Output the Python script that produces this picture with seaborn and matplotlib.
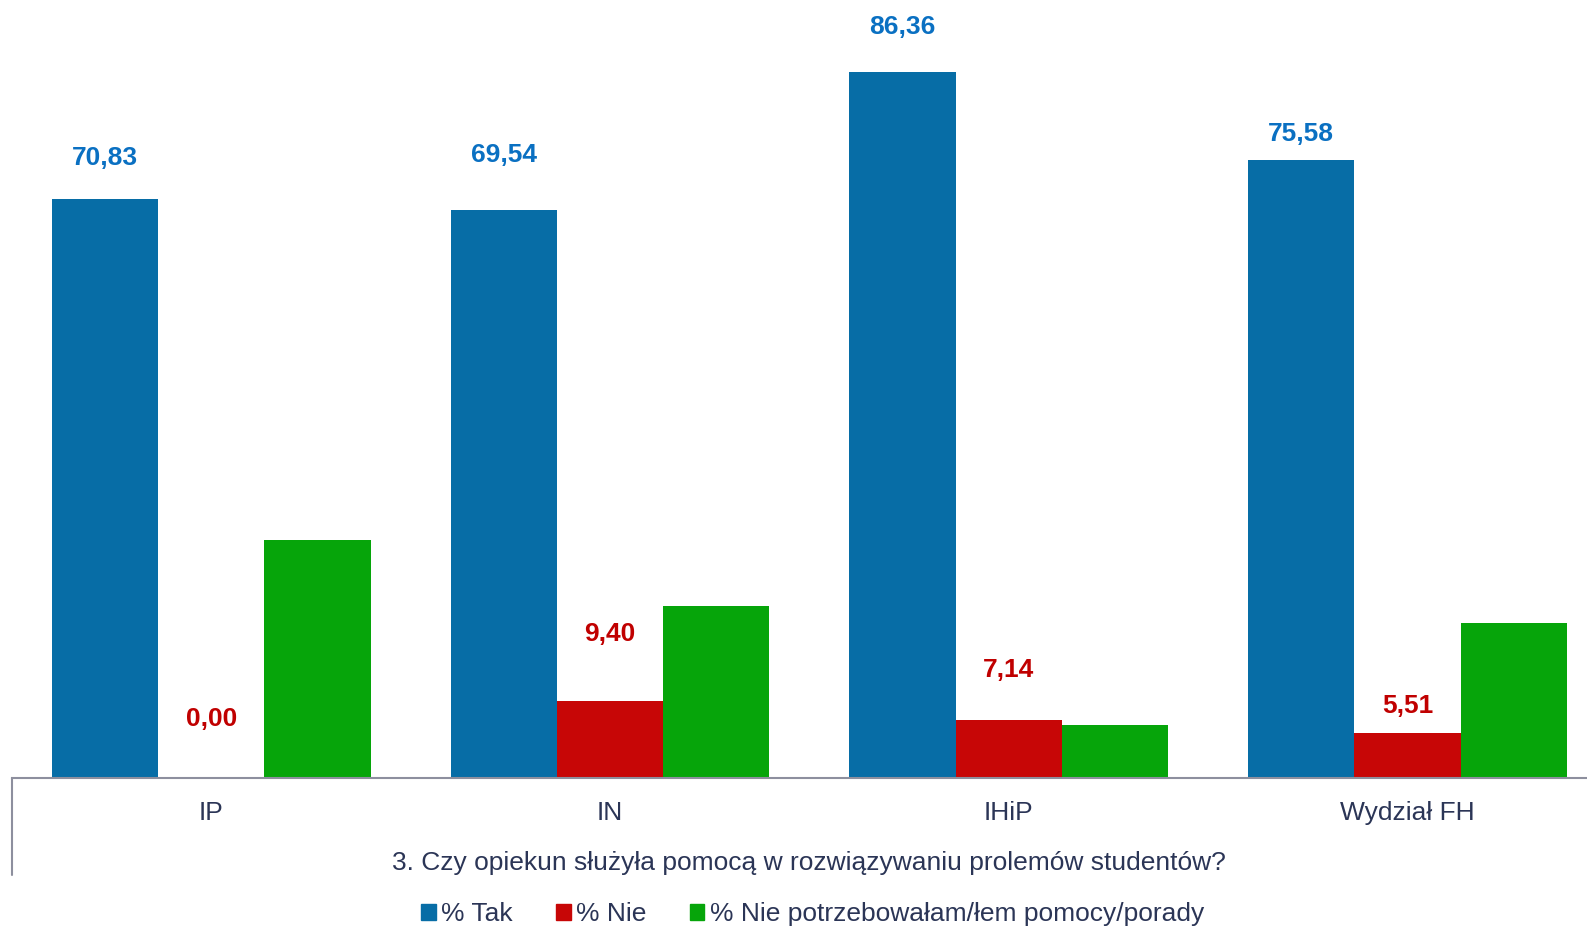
import pandas as pd
import seaborn as sns
import matplotlib.pyplot as plt
from matplotlib.patches import Patch

# dane
kategorie = ["IP", "IN", "IHiP", "Wydział FH"]
serie = ["% Tak", "% Nie", "% Nie potrzebowałam/łem pomocy/porady"]
tak = [70.83, 69.54, 86.36, 75.58]
nie = [0.00, 9.40, 7.14, 5.51]
nie_potrz = [29.17, 21.06, 6.50, 18.91]

kolory = ["#076da6", "#c70606", "#06a50a"]
kolory_etykiet = ["#0a70c2", "#c00000"]
# przesuniecie etykiet nad slupkami (px), jak w oryginale
przes_tak = [41, 55, 45, 26]
przes_nie = [59, 67, 50, 27]

df = pd.DataFrame({
    "kat": kategorie * 3,
    "seria": [serie[0]] * 4 + [serie[1]] * 4 + [serie[2]] * 4,
    "wart": tak + nie + nie_potrz,
})

sns.set_style("white")
plt.rcParams["font.family"] = ["Liberation Sans", "DejaVu Sans"]
tekst = "#2b3556"

fig = plt.figure(figsize=(15.87, 9.26), dpi=100)
# wykres lekko wychodzi poza prawa krawedz, jak w oryginale
ax = fig.add_axes([0.0075, 0.16, 1.005, 0.84])

sns.barplot(data=df, x="kat", y="wart", hue="seria", palette=kolory,
            saturation=1, width=0.8, linewidth=0, ax=ax, legend=False)

ax.set_ylim(0, 95.2)
ax.set_xlim(-0.5, 3.5)
ax.set_yticks([])
ax.set_ylabel("")
ax.set_xlabel("3. Czy opiekun służyła pomocą w rozwiązywaniu prolemów studentów?",
              fontsize=19, color=tekst, labelpad=19)
ax.tick_params(axis="x", length=0, labelsize=19, labelcolor=tekst, pad=16.5)
for s in ["top", "right", "left"]:
    ax.spines[s].set_visible(False)
ax.spines["bottom"].set_color("#8d8f9e")
ax.spines["bottom"].set_linewidth(1.5)
ax.plot([0, 0], [0, -0.125], transform=ax.transAxes, color="#8d8f9e",
        lw=1.5, clip_on=False)

# etykiety wartosci
for i, cont in enumerate(ax.containers[:2]):
    przes = przes_tak if i == 0 else przes_nie
    for j, bar in enumerate(cont):
        x = bar.get_x() + bar.get_width() / 2
        h = bar.get_height()
        ax.annotate(f"{h:.2f}".replace(".", ","), (x, h),
                    xytext=(0, przes[j] * 0.72), textcoords="offset points",
                    ha="center", va="center", fontsize=19, fontweight="bold",
                    color=kolory_etykiet[i])

uchwyty = [Patch(color=c, label=s) for c, s in zip(kolory, serie)]
leg = fig.legend(handles=uchwyty, loc="center", bbox_to_anchor=(0.512, 0.013),
                 ncol=3, frameon=False, fontsize=19, handlelength=0.55,
                 handleheight=0.55, handletextpad=0.2, columnspacing=1.65)
for t in leg.get_texts():
    t.set_color(tekst)

fig.savefig("out.png", dpi=100)
